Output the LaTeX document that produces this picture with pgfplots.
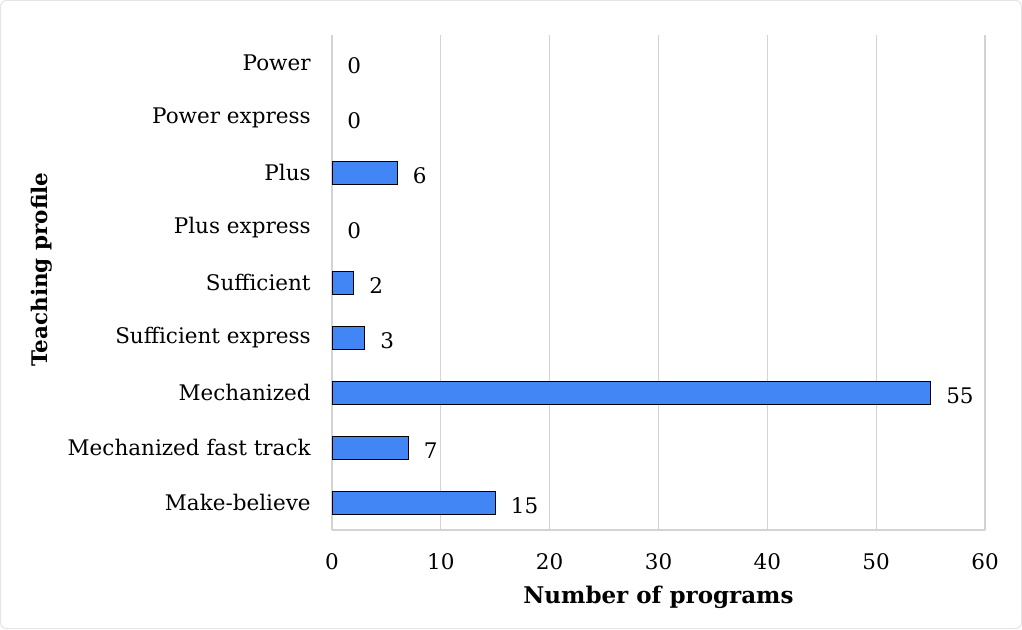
\documentclass[border=0pt]{standalone}
\usepackage{fontspec}
\setmainfont{DejaVu Serif}
\usepackage{pgfplots}
\pgfplotsset{compat=1.18}
\definecolor{barblue}{HTML}{4285F4}
\definecolor{gridgray}{HTML}{D3D3D3}
\begin{document}
\fontsize{21.5}{26}\selectfont
\begin{tikzpicture}[x=1pt,y=1pt]
\draw[gray!20, rounded corners=6pt, line width=1pt] (0.5,0.5) rectangle (1021.5,628.5);
\begin{axis}[at={(332pt,99pt)}, anchor=south west, scale only axis,
  width=653pt, height=495pt,
  xmin=0, xmax=60, ymin=-0.5, ymax=8.5,
  xtick={0,10,...,60}, ytick={0,...,8},
  yticklabels={Make-believe,Mechanized fast track,Mechanized,Sufficient express,Sufficient,Plus express,Plus,Power express,Power},
  /pgf/number format/assume math mode=true,
  major tick length=0pt,
  axis x line*=bottom, axis y line*=left,
  axis line style={gridgray, line width=1.3pt},
  xmajorgrids, grid style={gridgray, line width=1.3pt},
  xticklabel style={yshift=-16pt},
  yticklabel style={xshift=-14pt},
  xlabel={\fontsize{23}{27}\selectfont\bfseries Number of programs},
  ylabel={\bfseries Teaching profile},
  xlabel style={yshift=-2pt},
  ylabel style={yshift=1pt, xshift=13pt},
  xbar, bar width=23pt, bar shift=0pt,
  nodes near coords,
  every node near coord/.append style={anchor=west, xshift=8pt, yshift=-3pt, black},
]
\addplot[fill=barblue, draw=black, line width=1pt] coordinates {
 (15,0) (7,1) (55,2) (3,3) (2,4) (6,6)};
\addplot[draw=none, fill=none] coordinates {(0,5) (0,7) (0,8)};
\end{axis}
\end{tikzpicture}
\end{document}
